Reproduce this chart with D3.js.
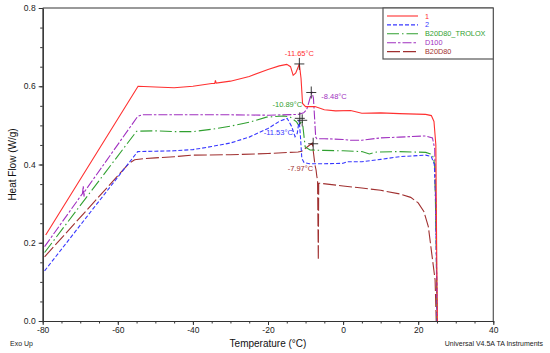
<!DOCTYPE html>
<html><head><meta charset="utf-8">
<script src="https://cdn.jsdelivr.net/npm/d3@7"></script>
<style>html,body{margin:0;padding:0;background:#fff;}svg{display:block;font-family:"Liberation Sans",Arial,sans-serif;}</style>
</head><body>
<svg id="chart" width="550" height="353"></svg>
<script>
// ---- data ----
const seriesNames = ["1", "2", "B20D80_TROLOX", "D100", "B20D80"];

const s1_T  = [-79.2,-54.6,-50,-45,-40,-35,-34.2,-34.0,-33.8,-30,-25,-20,-17,-15,-14,-13.3,-12.6,-11.65,-11.2,-10.8,-10,-7.5,-5,-2,2,5,10,15,22,23.5,24.2,24.7,24.9,25.1];
const s1_HF = [0.220,0.600,0.598,0.596,0.600,0.607,0.607,0.615,0.608,0.613,0.625,0.643,0.652,0.656,0.650,0.628,0.634,0.657,0.620,0.556,0.548,0.548,0.540,0.537,0.538,0.531,0.532,0.530,0.528,0.525,0.510,0.450,0.200,0.000];

const s2_T  = [-79.5,-54.7,-50,-45,-40,-35,-30,-25,-20,-17,-14.9,-13.7,-12.8,-12.2,-11.7,-11.3,-11.0,-10.4,-9,-5,0,1,5,10,15,22,23.5,24.3,24.7,25.0];
const s2_HF = [0.128,0.433,0.434,0.435,0.438,0.446,0.455,0.470,0.492,0.510,0.518,0.497,0.471,0.480,0.514,0.463,0.416,0.405,0.402,0.402,0.403,0.407,0.407,0.413,0.420,0.424,0.420,0.400,0.300,0.000];

const s3_T  = [-79.5,-55,-50,-45,-40,-35,-30,-25,-20.4,-15.9,-14.2,-12.4,-11.8,-10.89,-10.5,-10.1,-8.8,-5,0,5,7,9,15,22,23.8,24.4,24.8,25.0];
const s3_HF = [0.175,0.485,0.486,0.484,0.484,0.490,0.498,0.508,0.521,0.524,0.522,0.509,0.500,0.513,0.480,0.445,0.437,0.436,0.435,0.433,0.427,0.432,0.433,0.431,0.425,0.400,0.200,0.000];

const s4_T  = [-79.5,-69.4,-69.2,-69.0,-68.9,-54.7,-53.5,-50,-40,-30,-20,-12,-10.5,-9.7,-8.8,-8.3,-7.9,-7.6,-7.3,-7.0,-5,0,2,5,10,15,22,23.8,24.4,24.8,25.1];
const s4_HF = [0.190,0.326,0.345,0.318,0.330,0.523,0.527,0.527,0.527,0.527,0.526,0.528,0.532,0.540,0.570,0.584,0.570,0.520,0.470,0.466,0.466,0.464,0.462,0.462,0.468,0.470,0.473,0.468,0.440,0.200,0.000];

const s5_T  = [-79.5,-57,-55.5,-53,-50,-45,-40,-30,-20,-12,-11,-8.2,-7.5,-7.2,-7.0,-6.8,-6.6,-6.5,-6,0,5,10,15,18,20,21.5,22.7,23.6,24.5,24.8];
const s5_HF = [0.164,0.403,0.412,0.415,0.417,0.420,0.424,0.425,0.428,0.432,0.434,0.455,0.399,0.386,0.370,0.360,0.156,0.352,0.352,0.345,0.340,0.334,0.325,0.316,0.302,0.280,0.241,0.173,0.105,0.000];

// peak annotations
const peakT  = [-11.65, -8.48, -10.89, -11.53, -7.97];
const peakHF = [0.657, 0.584, 0.513, 0.518, 0.453];
const peakSeries = [0, 3, 2, 1, 4];

const xTicks = [-80,-60,-40,-20,0,20,40];
const yTicks = [0.0,0.2,0.4,0.6,0.8];

// ---- styles ----
const colors = ["#ff3030","#3838ff","#30a030","#a030c0","#a03030"];
const dashes = [null,"4,2","12,3,1.5,3","9,2,2.5,2","13,3"];

const svg = d3.select("#chart");
const x = d3.scaleLinear().domain([-80,40]).range([42.7,493.3]);
const y = d3.scaleLinear().domain([0,0.8]).range([321,8]);

// frame (top/right)
svg.append("line").attr("x1",x(-80)).attr("x2",x(40)).attr("y1",y(0.8)).attr("y2",y(0.8)).attr("stroke","#777").attr("stroke-width",1.5);
svg.append("line").attr("x1",x(40)).attr("x2",x(40)).attr("y1",y(0.8)).attr("y2",y(0)).attr("stroke","#555").attr("stroke-width",1.2);

// axes
const xAxis = d3.axisBottom(x).tickValues(xTicks).tickFormat(d=>String(d)).tickSizeInner(4).tickSizeOuter(0).tickPadding(2);
const xMinor = d3.axisBottom(x).tickValues(d3.range(-80,41,5)).tickFormat("").tickSizeInner(2.5).tickSizeOuter(0);
const gx2 = svg.append("g").attr("transform",`translate(0,${y(0)})`).call(xMinor);
const gx = svg.append("g").attr("transform",`translate(0,${y(0)})`).call(xAxis);
const yAxis = d3.axisLeft(y).tickValues(yTicks).tickFormat(d=>d.toFixed(1)).tickSizeInner(4).tickSizeOuter(0).tickPadding(3);
const yMinor = d3.axisLeft(y).tickValues(d3.range(0,0.801,0.05)).tickFormat("").tickSizeInner(2.5).tickSizeOuter(0);
const gy2 = svg.append("g").attr("transform",`translate(${x(-80)},0)`).call(yMinor);
const gy = svg.append("g").attr("transform",`translate(${x(-80)},0)`).call(yAxis);
[gx,gx2,gy,gy2].forEach(g=>{
  g.selectAll("path").attr("stroke","#333").attr("stroke-width",1.2);
  g.selectAll("line").attr("stroke","#333");
  g.selectAll("text").attr("font-size","8.5px").attr("fill","#222").attr("font-family",'"Liberation Sans",Arial,sans-serif');
});

// series
const seriesT = [s1_T,s2_T,s3_T,s4_T,s5_T];
const seriesHF = [s1_HF,s2_HF,s3_HF,s4_HF,s5_HF];
const line = d3.line().x(d=>x(d[0])).y(d=>y(d[1]));
const order = [4,3,2,1,0];
order.forEach(i=>{
  const pts = seriesT[i].map((t,k)=>[t,seriesHF[i][k]]);
  svg.append("path").datum(pts).attr("d",line).attr("fill","none")
    .attr("stroke",colors[i]).attr("stroke-width",1.1)
    .attr("stroke-dasharray",dashes[i]);
});

// peak markers
peakT.forEach((t,k)=>{
  const cx = x(t), cy = y(peakHF[k]);
  svg.append("line").attr("x1",cx-5).attr("x2",cx+5).attr("y1",cy).attr("y2",cy).attr("stroke","#222").attr("stroke-width",0.9);
  svg.append("line").attr("x1",cx).attr("x2",cx).attr("y1",cy-6).attr("y2",cy+6).attr("stroke","#222").attr("stroke-width",0.9);
});
// peak labels (offsets in px relative to marker)
const labelOff = [[0,-8,"middle"],[10,6,"start"],[0,-13,"end"],[-7,17,"end"],[0,27,"end"]];
peakT.forEach((t,k)=>{
  const cx = x(t), cy = y(peakHF[k]);
  svg.append("text").attr("x",cx+labelOff[k][0]).attr("y",cy+labelOff[k][1])
    .attr("text-anchor",labelOff[k][2]).attr("font-size","7.5px")
    .attr("fill",colors[peakSeries[k]]).text(t.toFixed(2)+"°C");
});

// legend
const lg = svg.append("g");
lg.append("rect").attr("x",383).attr("y",y(0.8)).attr("width",x(40)-383).attr("height",51)
  .attr("fill","#fff").attr("stroke","#555").attr("stroke-width",1.2);
seriesNames.forEach((n,i)=>{
  const yy = 16 + i*8.9;
  lg.append("line").attr("x1",387).attr("x2",418).attr("y1",yy).attr("y2",yy)
    .attr("stroke",colors[i]).attr("stroke-width",1.1).attr("stroke-dasharray",dashes[i]);
  lg.append("text").attr("x",425).attr("y",yy).attr("dy","0.35em").attr("font-size","7.3px")
    .attr("fill",colors[i]).text(n);
});

// titles
svg.append("text").attr("x",(x(-80)+x(40))/2).attr("y",347).attr("text-anchor","middle")
  .attr("font-size","10px").attr("fill","#111").text("Temperature (°C)");
svg.append("text").attr("transform",`translate(16,${(y(0)+y(0.8))/2}) rotate(-90)`).attr("text-anchor","middle")
  .attr("font-size","10px").attr("fill","#111").text("Heat Flow (W/g)");
svg.append("text").attr("x",10).attr("y",346).attr("font-size","7px").attr("fill","#222").text("Exo Up");
svg.append("text").attr("x",543).attr("y",346).attr("text-anchor","end").attr("font-size","7px").attr("fill","#222").text("Universal V4.5A TA Instruments");
</script>
</body></html>
